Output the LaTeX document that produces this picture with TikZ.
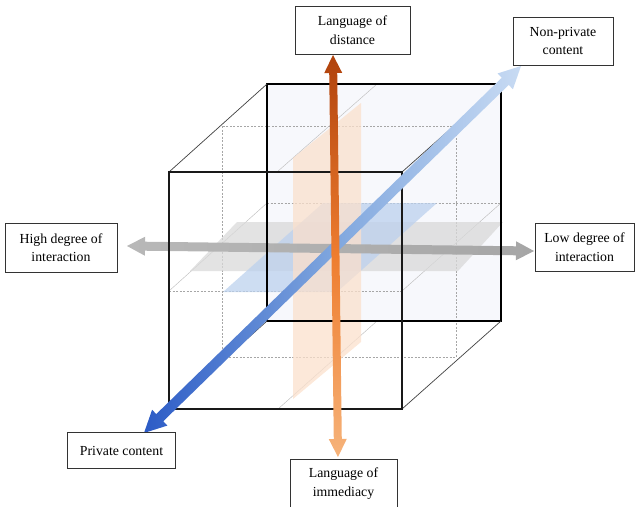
\documentclass[tikz,border=0pt]{standalone}
\usepackage{fontspec}
\setmainfont{Liberation Serif}
\usetikzlibrary{calc}

\definecolor{backfill}{HTML}{F7F8FC}
\definecolor{orangeDark}{HTML}{B0420C}
\definecolor{orangeMid}{HTML}{EE7D2F}
\definecolor{orangeLight}{HTML}{F6B37A}
\definecolor{blueDark}{HTML}{2C5BC6}
\definecolor{blueMid}{HTML}{7FA6DE}
\definecolor{blueLight}{HTML}{C8DBF3}
\definecolor{greyLeft}{HTML}{B8B8B8}
\definecolor{greyRight}{HTML}{A6A6A6}
\definecolor{planeOrange}{HTML}{FBE0CC}
\definecolor{planeBlue}{HTML}{BCD1EE}
\definecolor{planeGrey}{HTML}{D9D9D9}

% double-headed block arrow from #2 to #3
% #1 fill/shade options, #4 half shaft width, #5 half head width, #6 head length
\newcommand\twoheadarrow[6]{%
  \coordinate (ha) at ($(#2)!#6!(#3)$);
  \coordinate (hb) at ($(#3)!#6!(#2)$);
  \path[#1] (#2)
    -- ($(ha)!#5!90:(#3)$) -- ($(ha)!#4!90:(#3)$)
    -- ($(hb)!#4!90:(#3)$) -- ($(hb)!#5!90:(#3)$)
    -- (#3)
    -- ($(hb)!#5!-90:(#3)$) -- ($(hb)!#4!-90:(#3)$)
    -- ($(ha)!#4!-90:(#3)$) -- ($(ha)!#5!-90:(#3)$)
    -- cycle;}

\begin{document}
\begin{tikzpicture}[x=1pt,y=-1pt,
  lbl/.style={draw=black!80, line width=0.75pt, fill=white, align=center,
    inner sep=0pt, font=\fontsize{13.8}{18.5}\selectfont},
  edge front/.style={draw=black!90, line width=1.3pt},
  edge back/.style={draw=black, line width=1.1pt},
  edge side/.style={draw=black!75, line width=0.7pt},
  grid dash/.style={draw=black!35, line width=0.45pt, dash pattern=on 2pt off 1.5pt},
  grid thin/.style={draw=black!25, line width=0.45pt},
]
\useasboundingbox (0,0) rectangle (637,506);
\clip (0,0) rectangle (637,506);

% cube corners: front face F, back face B
\coordinate (F1) at (169,172);
\coordinate (F2) at (402,172);
\coordinate (F3) at (402,409);
\coordinate (F4) at (169,409);
\coordinate (B1) at (267,84);
\coordinate (B2) at (501,84);
\coordinate (B3) at (501,321);
\coordinate (B4) at (267,321);

% back wall
\fill[backfill] (B1) rectangle (B3);

% middle sections of the cube
\draw[grid dash] (222,126) rectangle (456,357);
\draw[grid dash] (169,291) -- (402,291);
\draw[grid dash] (267,203) -- (501,203);
\draw[grid thin] (169,291) -- (267,203);
\draw[grid thin] (402,291) -- (501,203);
\draw[grid thin] (277,172) -- (377,84);
\draw[grid thin] (278,409) -- (377,321);

% translucent planes
\fill[planeGrey, opacity=0.75] (190,271) -- (458,271) -- (503,222) -- (237,222) -- cycle;
\fill[planeBlue, opacity=0.75] (223,292) -- (337,292) -- (437,203) -- (323,203) -- cycle;
\fill[planeOrange, opacity=0.75] (293,158) -- (361,103) -- (361,342) -- (293,399) -- cycle;

% interaction axis
\coordinate (gA) at (127,246);
\coordinate (gB) at (534,251);
\twoheadarrow{left color=greyLeft, right color=greyRight}{gA}{gB}{4.5pt}{9.5pt}{18pt}

% cube edges
\draw[edge back] (B1) rectangle (B3);
\draw[edge side] (F1) -- (B1);
\draw[edge side] (F2) -- (B2);
\draw[edge side] (F3) -- (B3);
\draw[edge side] (F4) -- (B4);
\draw[edge front] (F1) rectangle (F3);

% content axis
\coordinate (bA) at (144,433);
\coordinate (bB) at (521,66);
\twoheadarrow{left color=blueDark, right color=blueLight, middle color=blueMid}{bA}{bB}{5pt}{11pt}{22pt}

% language axis
\coordinate (oA) at (338,457);
\coordinate (oB) at (333,55);
\twoheadarrow{top color=orangeDark, bottom color=orangeLight, middle color=orangeMid}{oA}{oB}{4pt}{9pt}{18pt}

% labels
\node[lbl, minimum width=115pt, minimum height=48pt] (distance) at (352.5,30) {Language of\\distance};
\node[lbl, minimum width=100pt, minimum height=48pt] (nonprivate) at (563,41) {Non-private\\content};
\node[lbl, minimum width=112pt, minimum height=49pt] (high) at (61,247.5) {High degree of\\interaction};
\node[lbl, minimum width=99pt, minimum height=48pt] (low) at (584.5,247) {Low degree of\\interaction};
\node[lbl, minimum width=108pt, minimum height=36pt] (private) at (121.5,450.5) {Private content};
\node[lbl, minimum width=107pt, minimum height=49pt] (immediacy) at (343.5,483.5) {Language of\\immediacy};
\end{tikzpicture}
\end{document}
